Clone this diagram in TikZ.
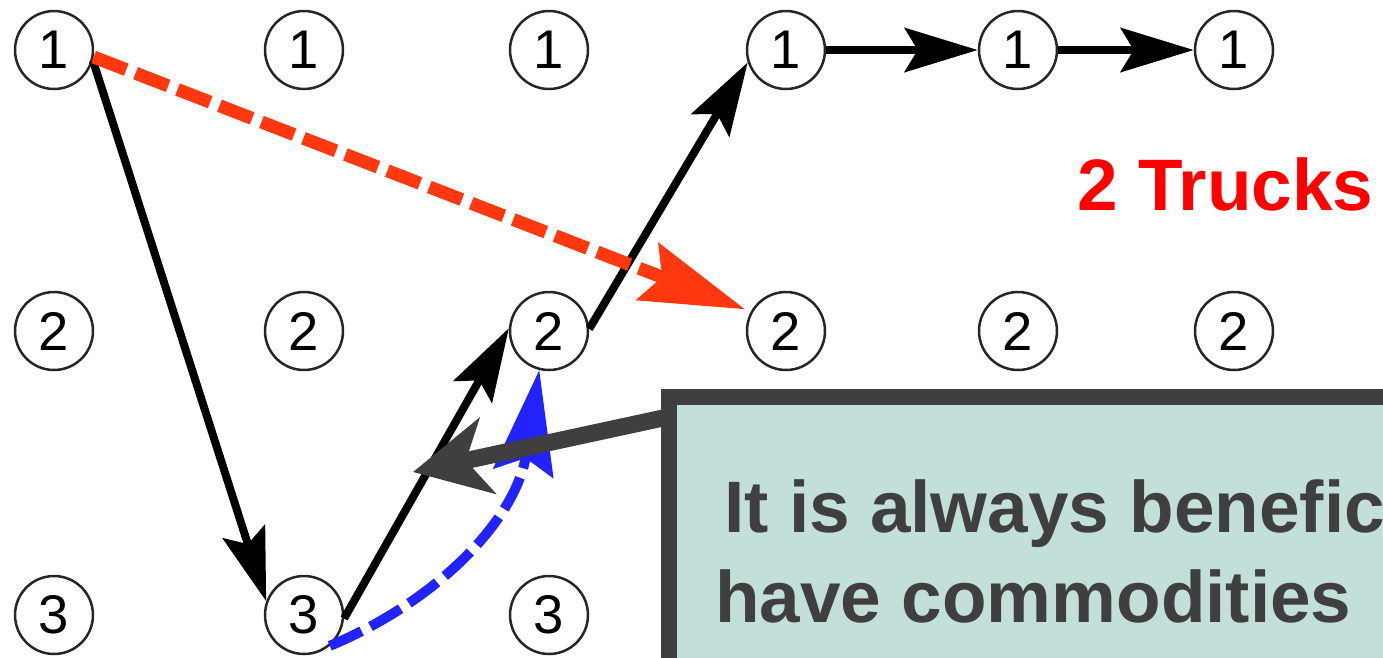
\documentclass[tikz,border=0pt]{standalone}
\usepackage{fontspec}
\setmainfont{Liberation Sans}
\usetikzlibrary{arrows.meta}
\definecolor{dashred}{RGB}{255,56,16}
\definecolor{dashblue}{RGB}{34,34,250}
\definecolor{notegray}{RGB}{63,63,63}
\definecolor{notefill}{RGB}{195,223,218}
\definecolor{truckred}{RGB}{255,0,0}
\tikzset{
	tsnode/.style={circle, draw=black!85, fill=white, line width=0.05cm, minimum size=1.56cm, inner sep=0pt, font=\fontsize{31}{36}\selectfont},
	flow/.style={line width=0.16cm, -{Stealth[length=1.46cm, width=0.88cm, inset=0.26cm]}},
	empty/.style={line width=0.26cm, dash pattern=on 0.7cm off 0.2cm, -{Stealth[length=2.08cm, width=1.2cm, inset=0.3cm]}},
	pointer/.style={notegray, line width=0.34cm, -{Stealth[length=1.52cm, width=1.54cm, inset=0.44cm]}},
	bigtext/.style={font=\fontsize{41.5}{50}\selectfont\bfseries, inner sep=0pt, anchor=base west}
}

\begin{document}
\begin{tikzpicture}[x=0.02cm, y=-0.02cm]
		\useasboundingbox (0,0) rectangle (1383,657);
		\clip (0,0) rectangle (1383,657);
		
		\foreach \c/\x in {1/54,2/304,3/549,4/786,5/1018,6/1234} {
			\node[tsnode] (v1\c) at (\x,50) {1};
			\node[tsnode] (v2\c) at (\x,331) {2};
		}
		\foreach \c/\x in {1/54,2/304,3/549}
			\node[tsnode] (v3\c) at (\x,615) {3};
		
		\draw[flow] (v11.-15) -- (v32.160);
		\draw[flow] (v32.-5) -- (v23.176);
		\draw[flow] (v23.3) -- (v14.198);
		\draw[flow] (v14) -- (v15);
		\draw[flow] (v15) -- (v16);
		
		\draw[empty, dashred, shorten >=0.12cm] (v11.-10) -- (v24.151);
		\draw[empty, dashblue, line width=0.2cm] (v32.-50) .. controls +(110,-46) and +(-23,148) .. (v23.-104);
		
		\coordinate (boxedge) at (663,418);
		\coordinate (aim) at (413,472);
		\draw[pointer] (boxedge) -- (aim);
		\draw[notegray, fill=notefill, line width=0.32cm] (669,397) rectangle (1450,720);
		
		\node[bigtext, notegray] (line1) at (724,532) {It is always beneficial};
		\node[bigtext, notegray] (line2) at (715,622) {have commodities};
		\node[bigtext, truckred] (trucks) at (1077,210) {2 Trucks};
	\end{tikzpicture}
\end{document}
